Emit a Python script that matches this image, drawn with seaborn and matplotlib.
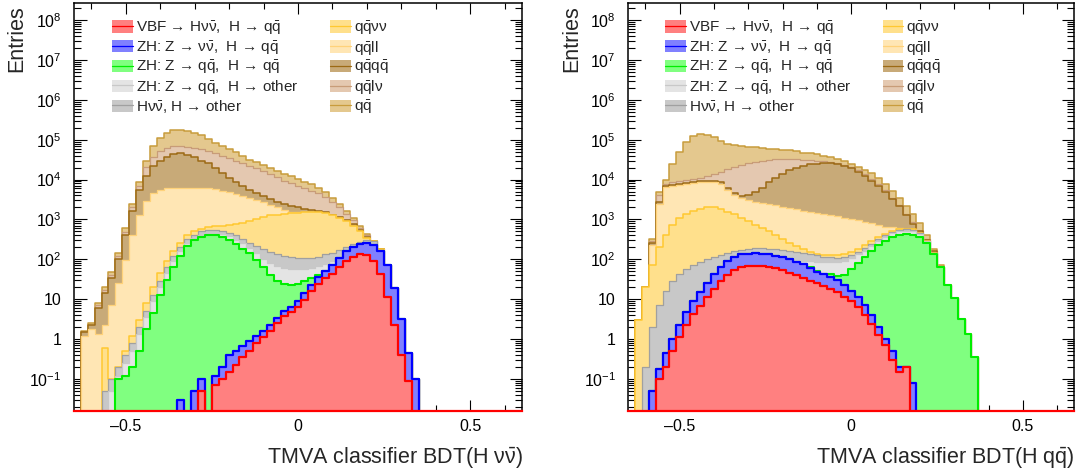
import numpy as np
import matplotlib
matplotlib.use("Agg")
import matplotlib.pyplot as plt
from matplotlib.patches import Patch
from matplotlib.lines import Line2D
from matplotlib.ticker import FixedLocator, FixedFormatter, LogLocator, MultipleLocator, NullFormatter
import seaborn as sns

sns.set_theme(style="ticks")
plt.rcParams["font.family"] = ["Liberation Sans", "DejaVu Sans"]
plt.rcParams["mathtext.fontset"] = "custom"
plt.rcParams["mathtext.rm"] = "Liberation Sans"
plt.rcParams["mathtext.it"] = "Liberation Sans"
plt.rcParams["mathtext.bf"] = "Liberation Sans:bold"

# ---------------------------------------------------------------------------
# Binning of the BDT output (50 bins of width 0.02)
bin_edges = np.linspace(-0.63, 0.37, 51)
bin_centers = 0.5 * (bin_edges[:-1] + bin_edges[1:])

QB = r"q$\bar{\mathrm{q}}$"          # q qbar
NB = "\u03bd" + r"$\bar{\nu}$"       # nu nubar

# Processes, stacked from bottom to top
process_labels = [
    "VBF \u2192 H" + NB + ",  H \u2192 " + QB,
    "ZH: Z \u2192 " + NB + ",  H \u2192 " + QB,
    "ZH: Z \u2192 " + QB + ",  H \u2192 " + QB,
    "ZH: Z \u2192 " + QB + ",  H \u2192 other",
    "H" + NB + ", H \u2192 other",
    QB + "\u03bd\u03bd",
    QB + "ll",
    QB + QB,
    QB + "l\u03bd",
    QB,
]
fill_colors = ["#ff8080", "#8080ff", "#80ff80", "#e4e4e4", "#c8c8c8",
               "#ffe08c", "#ffe6b4", "#c8aa78", "#e4c8b0", "#e4c88e"]
line_colors = ["#ff0000", "#0000ff", "#00ee00", "#c8c8c8", "#a0a0a0",
               "#ffc830", "#ffd27a", "#9c6a14", "#c89c78", "#c89c3c"]
line_widths = [1.6, 1.6, 1.5, 0.9, 0.9, 1.1, 0.9, 1.1, 0.9, 1.1]

# Stack heights per bin: the level reached once each process is added on top
# of the ones before it (0 = the process adds nothing in that bin).
# --- BDT(H nu nubar) ---
hnn_vbf = [
    0, 0, 0, 0, 0, 0, 0, 0, 0, 0,
    0, 0, 0, 0, 0, 0, 0, 0.05, 0, 0.07,
    0.1, 0.15, 0.22, 0.35, 0.5, 0.8, 1.1, 1.6, 2.5, 3.8,
    4.8, 6.5, 9.5, 16, 24, 33, 44, 63, 93, 117,
    138, 130, 93, 44, 11, 2.3, 0.4, 0.09, 0, 0]
hnn_zh_nn = [
    0, 0, 0, 0, 0, 0, 0, 0, 0, 0,
    0, 0, 0, 0, 0.03, 0, 0.05, 0.1, 0, 0.12,
    0.2, 0.4, 0.5, 0.65, 0.9, 1.2, 1.6, 2.2, 3.3, 5,
    6.5, 9, 14, 23, 35, 50, 74, 110, 158, 200,
    240, 257, 234, 158, 71, 19, 3.2, 0.44, 0.1, 0]
hnn_zh_qq = [
    0, 0, 0, 0, 0, 0.1, 0.12, 0.2, 0.5, 1.8,
    4.4, 12.6, 30, 63, 120, 215, 300, 370, 400, 400,
    355, 300, 245, 185, 140, 95, 63, 40, 29, 24,
    23, 24, 28, 33, 40, 52, 0, 0, 0, 0,
    0, 0, 0, 0, 0, 0, 0, 0, 0, 0]
hnn_zh_other = [
    0, 0, 0, 0, 0.05, 0.12, 0.25, 0.5, 1.3, 3.5,
    9, 20, 45, 90, 160, 255, 340, 410, 450, 460,
    430, 375, 310, 250, 195, 145, 100, 80, 68, 60,
    56, 58, 58, 60, 66, 76, 89, 120, 166, 204,
    245, 263, 245, 0, 0, 0, 0, 0, 0, 0]
hnn_hnn_other = [
    0, 0, 0, 0.05, 0.1, 0.2, 0.4, 0.8, 2, 5,
    12.6, 28, 63, 120, 200, 316, 417, 500, 540, 550,
    520, 470, 400, 324, 263, 214, 178, 151, 132, 120,
    112, 107, 105, 107, 117, 132, 148, 174, 204, 240,
    275, 302, 288, 166, 0, 0, 0, 0, 0, 0]
hnn_qqnn = [
    0, 0, 0, 0.6, 0, 0.1, 0.5, 1.2, 3, 8,
    20, 45, 89, 158, 263, 400, 500, 590, 650, 680,
    700, 720, 760, 830, 930, 1050, 1175, 1260, 1320, 1380,
    1450, 1480, 1510, 1550, 1550, 1420, 1260, 1070, 890, 690,
    500, 350, 257, 182, 0, 0, 0, 0, 0, 0]
hnn_qqll = [
    1.2, 1.8, 1.3, 2.3, 7, 26, 95, 400, 1260, 2950,
    4570, 5500, 6000, 6200, 6300, 6300, 6300, 6200, 6000, 5750,
    5250, 4800, 4270, 3800, 3400, 3000, 2700, 2350, 2000, 1740,
    1580, 1520, 0, 0, 0, 0, 0, 0, 0, 0,
    0, 0, 0, 0, 0, 0, 0, 0, 0, 0]
hnn_qqqq = [
    1.5, 2.2, 6, 14, 33, 100, 400, 1600, 5500, 12000,
    21500, 29000, 38000, 44000, 46000, 42000, 36000, 30000, 25500, 19500,
    15000, 11000, 8500, 6800, 5500, 4600, 3800, 3200, 2800, 2450,
    2200, 2040, 1860, 1750, 1650, 1500, 1320, 1150, 980, 760,
    560, 370, 263, 0, 0, 0, 0, 0, 0, 0]
hnn_qqln = [
    1.5, 2.3, 7, 17, 40, 120, 480, 2000, 7000, 21000,
    38000, 52000, 62000, 68000, 69000, 67000, 63000, 58000, 52000, 46000,
    40000, 35000, 30000, 26000, 22500, 19500, 16600, 14000, 11500, 9500,
    8000, 6800, 6000, 5200, 4500, 3600, 2700, 2000, 1400, 950,
    620, 400, 265, 0, 0, 0, 0, 0, 0, 0]
hnn_qq = [
    1.6, 2.5, 8, 20, 47, 145, 600, 2500, 8900, 30000,
    68000, 110000, 150000, 175000, 178000, 170000, 150000, 130000, 105000, 85000,
    71000, 59000, 49000, 39000, 32000, 27500, 23000, 20000, 16600, 14000,
    12000, 10500, 8900, 7600, 6200, 4800, 3500, 2500, 1660, 1070,
    680, 420, 275, 0, 0, 0, 0, 0, 0, 0]

# --- BDT(H q qbar) ---
hqq_vbf = [
    0, 0, 0, 0.1, 0.2, 0.5, 1.1, 2.2, 4.2, 6.6,
    11, 18, 28, 40, 54, 63, 69, 69, 68, 63,
    59, 54, 46, 40, 34, 29, 25, 21, 18, 15,
    11.5, 9, 6.3, 4, 2.4, 1.26, 0.7, 0.3, 0.15, 0.2,
    0, 0, 0, 0, 0, 0, 0, 0, 0, 0]
hqq_zh_nn = [
    0, 0, 0.05, 0.18, 0.45, 1.0, 2.2, 4.8, 9, 15,
    26, 42, 63, 89, 115, 132, 138, 141, 138, 132,
    123, 112, 100, 87, 76, 62, 48, 42, 36, 30,
    22, 16, 11, 7, 4, 2, 1.0, 0.5, 0.2, 0.2,
    0.08, 0, 0, 0, 0, 0, 0, 0, 0, 0]
hqq_zh_qq = [
    0, 0, 0, 0, 0, 0, 0, 0, 0, 0,
    0, 0, 0, 0, 0, 0, 0, 0, 0, 0,
    0, 0, 0, 0, 0, 65, 52, 44, 42, 39,
    40, 56, 83, 112, 158, 224, 295, 363, 407, 427,
    417, 372, 251, 132, 63, 22, 10.5, 3.2, 1.3, 0.35]
hqq_zh_other = [
    0, 0, 0, 0, 0, 0, 0, 0, 0, 0,
    0, 0, 0, 0, 0, 0, 0, 0, 0, 0,
    0, 0, 0, 95, 91, 89, 87, 85, 85, 87,
    93, 107, 132, 166, 219, 288, 363, 447, 500, 525,
    500, 427, 282, 141, 0, 0, 0, 0, 0, 0]
hqq_hnn_other = [
    0, 0.2, 2, 7, 16, 28, 43, 58, 72, 87,
    100, 112, 126, 145, 158, 174, 186, 190, 190, 186,
    182, 174, 166, 155, 145, 135, 126, 117, 112, 110,
    112, 126, 151, 190, 245, 316, 400, 479, 537, 562,
    537, 457, 295, 145, 0, 0, 0, 0, 0, 0]
hqq_qqnn = [
    3, 20, 71, 200, 417, 725, 1070, 1410, 1660, 1860,
    2000, 2000, 1860, 1580, 1350, 1120, 910, 740, 600, 500,
    400, 316, 263, 214, 178, 155, 138, 129, 126, 126,
    135, 155, 182, 224, 282, 355, 427, 500, 562, 590,
    562, 0, 0, 0, 0, 0, 0, 0, 0, 0]
hqq_qqll = [
    0, 0, 224, 2500, 6600, 7100, 7400, 7900, 8300, 8700,
    8900, 8900, 7900, 5600, 4200, 3550, 3160, 2800, 2600, 2450,
    2300, 2100, 1950, 1780, 1660, 1550, 1450, 1350, 1260, 1200,
    1120, 1050, 955, 870, 794, 724, 660, 630, 600, 0,
    0, 0, 0, 0, 0, 0, 0, 0, 0, 0]
hqq_qqqq = [
    0, 20, 250, 2800, 6900, 7400, 7800, 8300, 8700, 9100,
    9300, 9300, 8500, 6300, 4700, 3900, 4000, 4800, 6300, 8500,
    11200, 14000, 17000, 20000, 22400, 24000, 25000, 25700, 25700, 24500,
    22400, 19500, 15800, 12600, 9500, 7100, 5000, 3300, 2140, 1320,
    790, 500, 300, 158, 0, 0, 0, 0, 0, 0]
hqq_qqln = [
    0, 20, 280, 4000, 7900, 8500, 9300, 10000, 10500, 11200,
    12300, 13800, 15800, 18200, 20400, 22900, 25700, 28200, 30200, 31600,
    32400, 32400, 32400, 32400, 31600, 30900, 30200, 28800, 27500, 25700,
    23400, 20400, 17000, 13500, 10200, 7600, 5400, 3550, 2300, 1410,
    850, 525, 316, 0, 0, 0, 0, 0, 0, 0]
hqq_qq = [
    2, 20, 316, 5000, 10000, 25000, 50000, 89000, 126000, 141000,
    135000, 115000, 91000, 79000, 72000, 69000, 66000, 65000, 63000, 60000,
    59000, 56000, 54000, 51000, 48000, 46000, 43000, 40000, 37000, 33000,
    29500, 25000, 21000, 17800, 14500, 11200, 7900, 5250, 3400, 2240,
    1400, 830, 400, 180, 70, 0, 0, 0, 0, 0]

# Axis annotation
x_ticks = [-0.5, 0.0, 0.5]
x_tick_labels = ["\u20130.5", "0", "0.5"]
y_ticks = [1e-1, 1e0, 1e1, 1e2, 1e3, 1e4, 1e5, 1e6, 1e7, 1e8]
y_tick_labels = [r"$10^{-1}$", "1", "10", r"$10^{2}$", r"$10^{3}$", r"$10^{4}$",
                 r"$10^{5}$", r"$10^{6}$", r"$10^{7}$", r"$10^{8}$"]
x_range = (-0.65, 0.65)
y_range = (0.016, 2.72e8)

panels = [
    dict(stack=[hnn_vbf, hnn_zh_nn, hnn_zh_qq, hnn_zh_other, hnn_hnn_other,
                hnn_qqnn, hnn_qqll, hnn_qqqq, hnn_qqln, hnn_qq],
         xlabel="TMVA classifier BDT(H " + NB + ")",
         rect=[74 / 1081, 65.5 / 476, 448 / 1081, 407.5 / 476],
         ylabel_x=17 / 1081, xlabel_x=523 / 1081,
         legend_x=(112 / 1081, 330 / 1081)),
    dict(stack=[hqq_vbf, hqq_zh_nn, hqq_zh_qq, hqq_zh_other, hqq_hnn_other,
                hqq_qqnn, hqq_qqll, hqq_qqqq, hqq_qqln, hqq_qq],
         xlabel="TMVA classifier BDT(H " + QB + ")",
         rect=[628.3 / 1081, 65.5 / 476, 446 / 1081, 407.5 / 476],
         ylabel_x=571.5 / 1081, xlabel_x=1075 / 1081,
         legend_x=(665 / 1081, 882.7 / 1081)),
]

fig = plt.figure(figsize=(10.81, 4.76), dpi=100)
fig.patch.set_facecolor("white")

handles = [(Patch(facecolor=fc, edgecolor="none"), Line2D([], [], color=lc, lw=0.9))
           for fc, lc in zip(fill_colors, line_colors)]
edge_list = list(bin_edges)

for p in panels:
    ax = fig.add_axes(p["rect"])
    ax.set_facecolor("white")
    ax.set_yscale("log")
    levels = np.maximum.accumulate(np.array(p["stack"], dtype=float), axis=0)
    # draw the cumulative histograms from the top of the stack downwards
    for i in range(len(levels) - 1, -1, -1):
        sns.histplot(x=bin_centers, weights=levels[i], bins=edge_list,
                     element="step", fill=True, color=fill_colors[i],
                     edgecolor=line_colors[i], linewidth=line_widths[i],
                     alpha=1, ax=ax)
    ax.set_xlim(*x_range)
    ax.set_ylim(*y_range)
    ax.set_xlabel("")
    ax.set_ylabel("")

    ax.xaxis.set_major_locator(FixedLocator(x_ticks))
    ax.xaxis.set_major_formatter(FixedFormatter(x_tick_labels))
    ax.xaxis.set_minor_locator(MultipleLocator(0.1))
    ax.yaxis.set_major_locator(FixedLocator(y_ticks))
    ax.yaxis.set_major_formatter(FixedFormatter(y_tick_labels))
    ax.yaxis.set_minor_locator(LogLocator(base=10, subs=np.arange(2, 10), numticks=40))
    ax.yaxis.set_minor_formatter(NullFormatter())

    ax.tick_params(axis="both", which="both", direction="in", top=True, right=True,
                   color="black", width=0.8, labelcolor="black")
    ax.tick_params(axis="y", which="major", length=9, pad=9, labelsize=11.5)
    ax.tick_params(axis="y", which="minor", length=5)
    ax.tick_params(axis="x", which="major", length=8, pad=6, labelsize=11.5)
    ax.tick_params(axis="x", which="minor", length=4)
    for side in ["left", "right", "top"]:
        ax.spines[side].set_color("black")
        ax.spines[side].set_linewidth(1.1)
    ax.spines["bottom"].set_color("#ff0000")
    ax.spines["bottom"].set_linewidth(1.6)

    fig.text(p["ylabel_x"], 1 - 5 / 476, "Entries", rotation=90,
             ha="center", va="top", fontsize=15.5)
    fig.text(p["xlabel_x"], 1 - 458 / 476, p["xlabel"], ha="right", va="center",
             fontsize=15.5)

    # two legend columns: signal processes on the left, backgrounds on the right
    for col, lx in enumerate(p["legend_x"]):
        sel = slice(0, 5) if col == 0 else slice(5, 10)
        leg = ax.legend(handles[sel], process_labels[sel], loc="upper left",
                        bbox_to_anchor=(lx, 1 - 19 / 476), bbox_transform=fig.transFigure,
                        frameon=False, borderpad=0, borderaxespad=0,
                        handlelength=1.35, handleheight=0.85, handletextpad=0.2,
                        labelspacing=0.12, fontsize=11)
        if col == 0:
            ax.add_artist(leg)

fig.savefig("out.png", dpi=100)
